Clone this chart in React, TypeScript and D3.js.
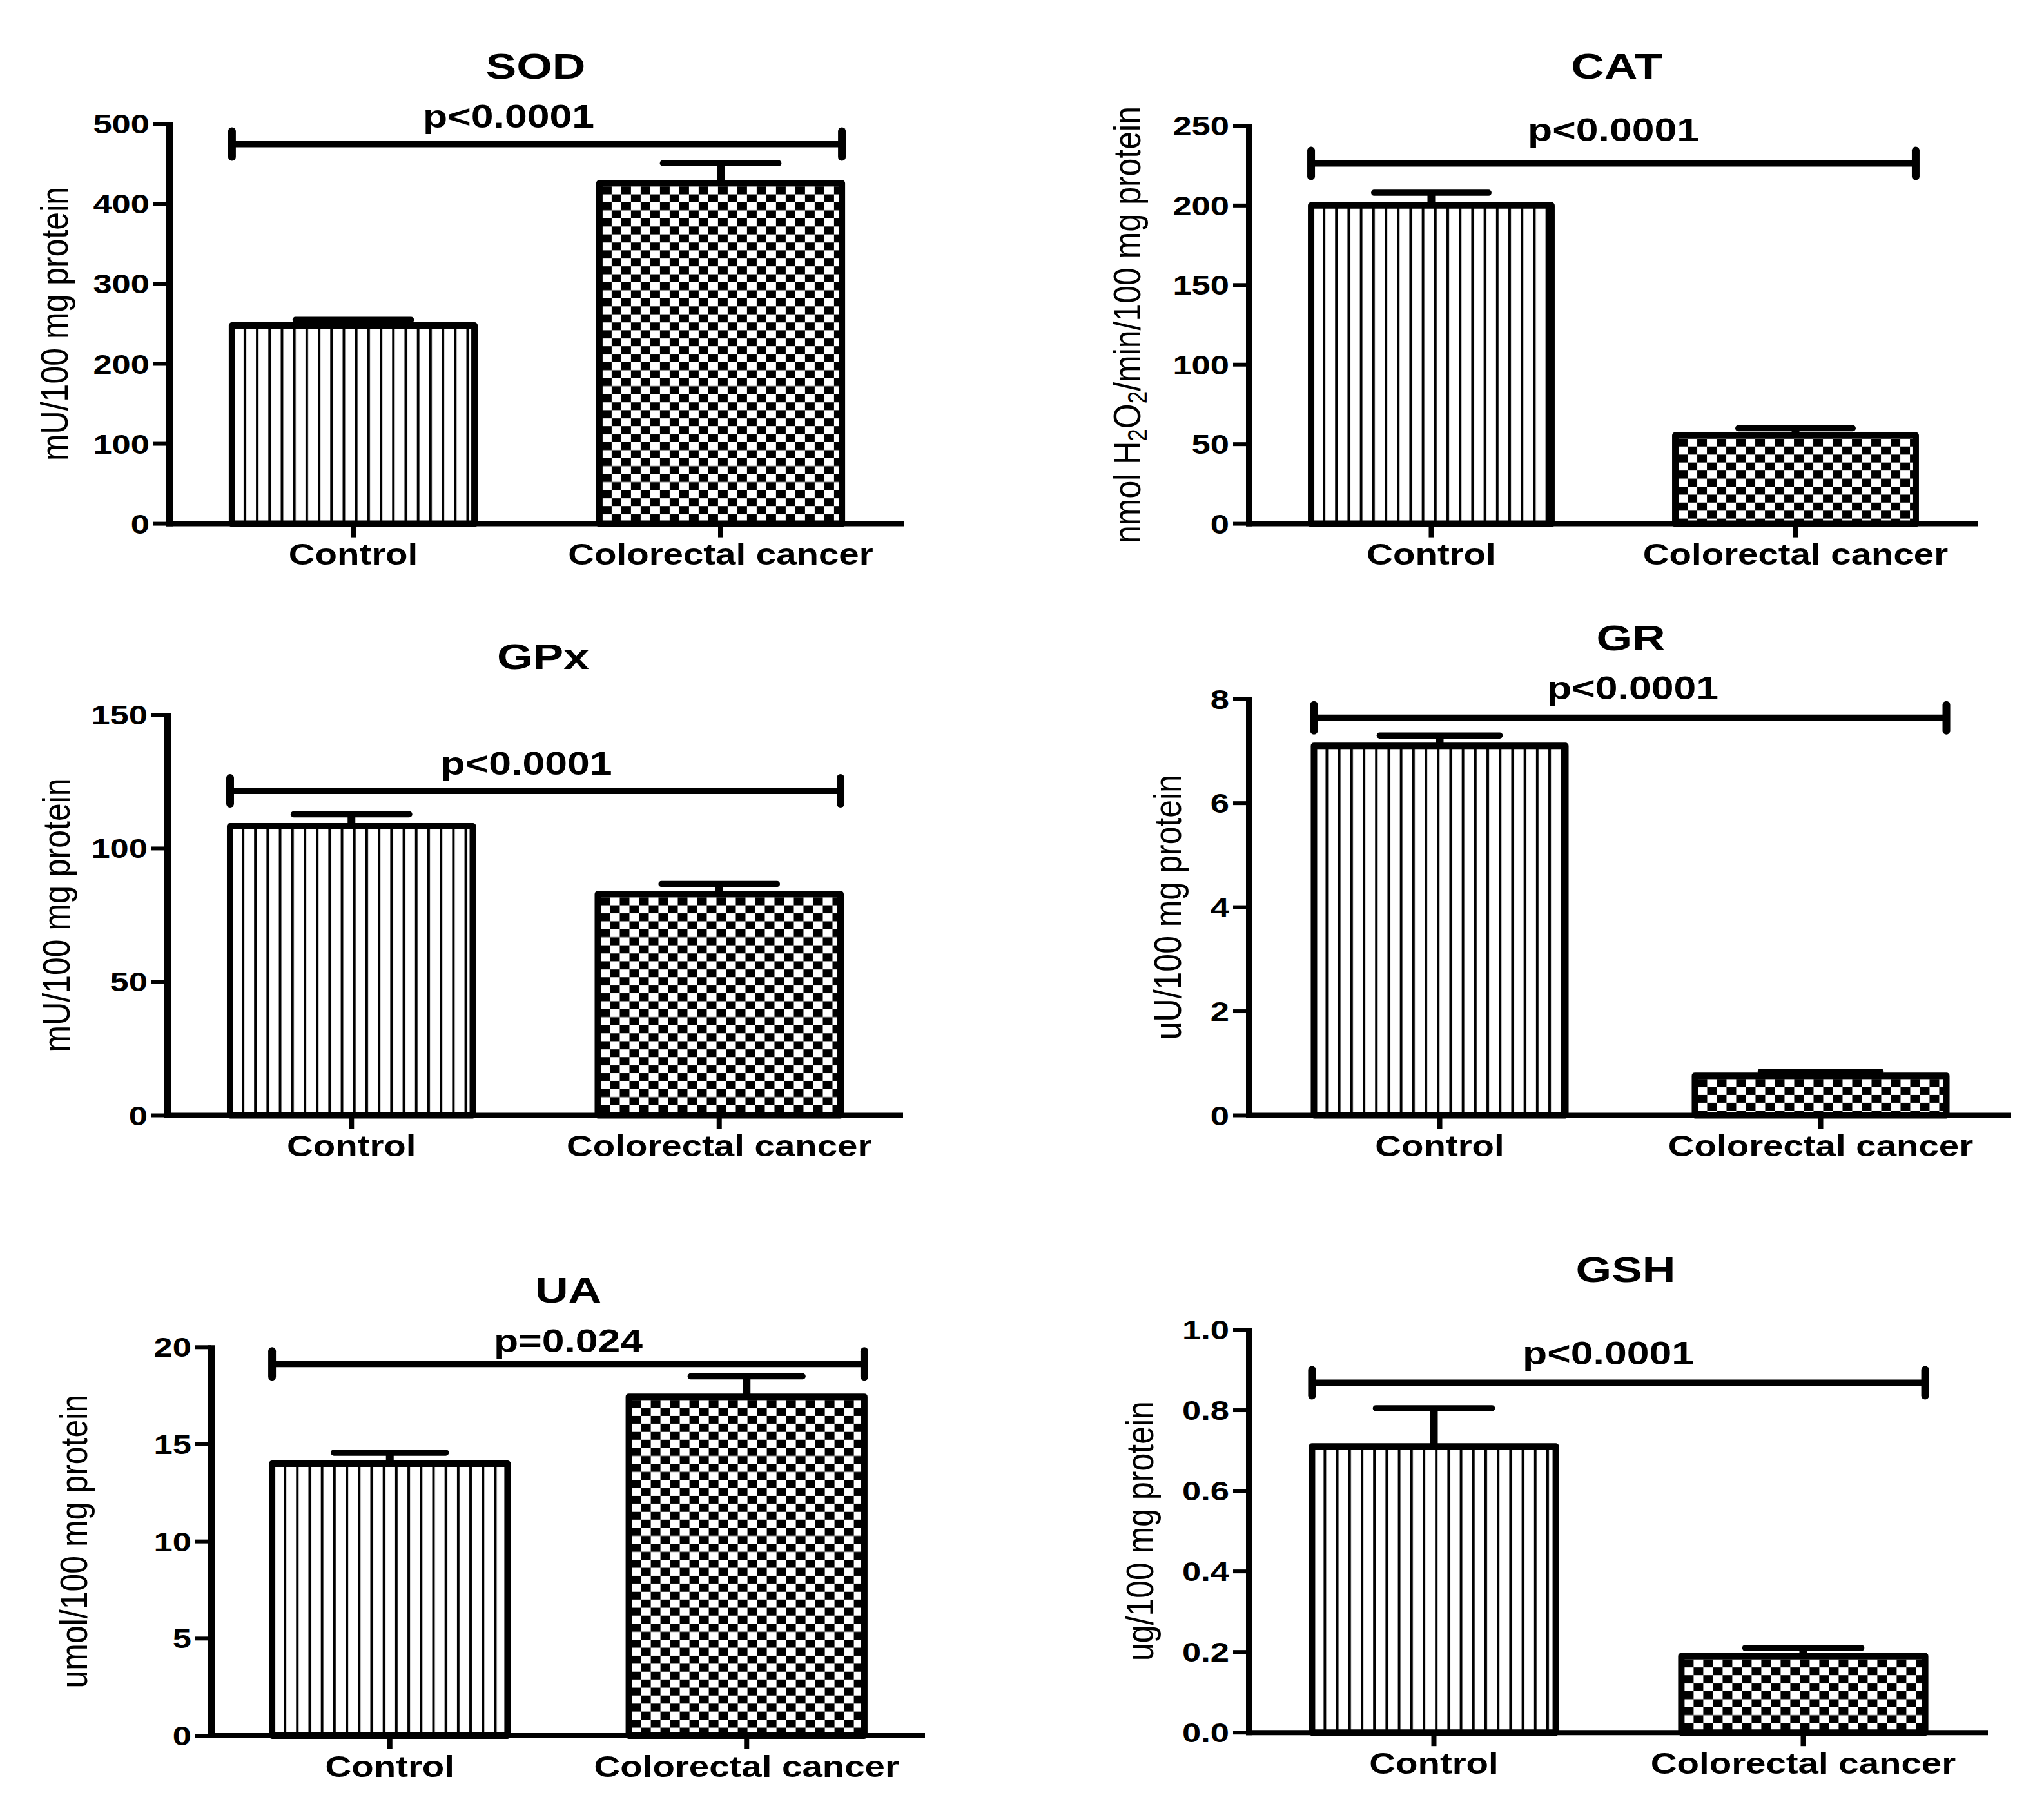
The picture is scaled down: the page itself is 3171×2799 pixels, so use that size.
import * as d3 from "d3";

const groups = ["Control", "Colorectal cancer"];

const titles = ["SOD", "CAT", "GPx", "GR", "UA", "GSH"];
const yLabels = [
  "mU/100 mg protein",
  "nmol H_2O_2/min/100 mg protein",
  "mU/100 mg protein",
  "uU/100 mg protein",
  "umol/100 mg protein",
  "ug/100 mg protein",
];

// mean and SEM for [Control, Colorectal cancer]
const means = [
  [248, 426],
  [200, 55.5],
  [108.3, 82.9],
  [7.1, 0.76],
  [14.0, 17.45],
  [0.71, 0.19],
];
const sems = [
  [7, 25],
  [8, 4.5],
  [4.5, 3.8],
  [0.2, 0.08],
  [0.57, 1.05],
  [0.095, 0.02],
];

const yMax = [500, 250, 150, 8, 20, 1.0];
const yTicks = [
  [0, 100, 200, 300, 400, 500],
  [0, 50, 100, 150, 200, 250],
  [0, 50, 100, 150],
  [0, 2, 4, 6, 8],
  [0, 5, 10, 15, 20],
  [0, 0.2, 0.4, 0.6, 0.8, 1.0],
];
const tickFormats = ["d", "d", "d", "d", "d", ".1f"];

const pLabels = ["p<0.0001", "p<0.0001", "p<0.0001", "p<0.0001", "p=0.024", "p<0.0001"];
const sigLevels = [475, 226.5, 121.6, 7.64, 19.14, 0.868];

// panel placement in page pixels
const LAYOUT = [
  { left: 263, right: 1403, top: 192.4, bottom: 812.6, labelX: 105, titleY: 122, titleDx: -2, pGap: 25, pDx: -44 },
  { left: 1938, right: 3068, top: 195.4, bottom: 812.6, labelX: 1769, titleY: 122, titleDx: 5, pGap: 34, pDx: 0 },
  { left: 260, right: 1401, top: 1109.4, bottom: 1730.5, labelX: 107.5, titleY: 1038, titleDx: 12, pGap: 25, pDx: -14 },
  { left: 1938, right: 3120, top: 1084.7, bottom: 1730.5, labelX: 1832, titleY: 1009, titleDx: 1, pGap: 29, pDx: 4 },
  { left: 328, right: 1435, top: 2090.3, bottom: 2693, labelX: 134.5, titleY: 2021, titleDx: 0, pGap: 18, pDx: 0 },
  { left: 1938, right: 3084, top: 2063, bottom: 2688.2, labelX: 1788.5, titleY: 1989, titleDx: 11, pGap: 29, pDx: -16 },
];

const FONT = "'Liberation Sans', Arial, Helvetica, sans-serif";

type TxtProps = {
  x: number;
  y: number;
  size: number;
  stretch: number;
  stretchY?: number;
  weight?: string;
  anchor?: string;
  rotate?: boolean;
  children: any;
};

const Txt = ({
  x,
  y,
  size,
  stretch,
  stretchY = 1,
  weight = "bold",
  anchor = "middle",
  rotate = false,
  children,
}: TxtProps) => (
  <text
    transform={`translate(${x},${y})${rotate ? " rotate(-90)" : ""} scale(${stretch},${stretchY})`}
    fontSize={size}
    fontWeight={weight}
    textAnchor={anchor}
    fontFamily={FONT}
    fill="#000"
  >
    {children}
  </text>
);

// "H_2" -> H with subscript 2
const labelParts = (s: string, size: number) => {
  const parts = s.split(/(_\d)/);
  const out: any[] = [];
  let shifted = false;
  parts.forEach((p, k) => {
    if (p.startsWith("_")) {
      out.push(
        <tspan key={k} fontSize={size * 0.7} dy={shifted ? 0 : size * 0.16}>
          {p.slice(1)}
        </tspan>
      );
      shifted = true;
    } else if (p.length) {
      out.push(
        <tspan key={k} dy={shifted ? -size * 0.16 : 0}>
          {p}
        </tspan>
      );
      shifted = false;
    }
  });
  return out;
};

const Panel = ({ i }: { i: number }) => {
  const L = LAYOUT[i];
  const xScale = d3
    .scaleBand()
    .domain(groups)
    .range([L.left, L.right])
    .paddingInner(0.34)
    .paddingOuter(0.17);
  const yScale = d3.scaleLinear().domain([0, yMax[i]]).range([L.bottom, L.top]);
  const bw = xScale.bandwidth();
  const fmt = d3.format(tickFormats[i]);
  const cx = (L.left + L.right) / 2;

  const x0 = xScale(groups[0]) as number;
  const x1 = (xScale(groups[1]) as number) + bw;
  const sy = yScale(sigLevels[i]);

  return (
    <g>
      <defs>
        {groups.map((g, j) => {
          const bx = xScale(g) as number;
          const by = yScale(means[i][j]);
          return j === 0 ? (
            <pattern
              key={g}
              id={`pat-${i}-${j}`}
              patternUnits="userSpaceOnUse"
              x={bx + 18}
              y={by}
              width={19.2}
              height={20}
            >
              <rect width={19.2} height={20} fill="#fff" />
              <rect width={4} height={20} fill="#000" />
            </pattern>
          ) : (
            <pattern
              key={g}
              id={`pat-${i}-${j}`}
              patternUnits="userSpaceOnUse"
              x={bx + 4}
              y={by + 5}
              width={30}
              height={24.8}
            >
              <rect width={30} height={24.8} fill="#fff" />
              <rect width={15} height={12.4} fill="#000" />
              <rect x={15} y={12.4} width={15} height={12.4} fill="#000" />
            </pattern>
          );
        })}
      </defs>

      {/* bars */}
      {groups.map((g, j) => {
        const bx = xScale(g) as number;
        const v = means[i][j];
        const top = yScale(v);
        const errTop = yScale(v + sems[i][j]);
        const mid = bx + bw / 2;
        const capHalf = bw * 0.25 - 4.5;
        return (
          <g key={g}>
            <rect
              x={bx}
              y={top}
              width={bw}
              height={L.bottom - top}
              fill={`url(#pat-${i}-${j})`}
              stroke="#000"
              strokeWidth={10}
              strokeLinejoin="round"
            />
            <line x1={mid} x2={mid} y1={top} y2={errTop} stroke="#000" strokeWidth={12} />
            <line
              x1={mid - capHalf}
              x2={mid + capHalf}
              y1={errTop}
              y2={errTop}
              stroke="#000"
              strokeWidth={9.5}
              strokeLinecap="round"
            />
          </g>
        );
      })}

      {/* axes */}
      <line x1={L.left} x2={L.left} y1={L.top - 3} y2={L.bottom + 4} stroke="#000" strokeWidth={10} />
      <line x1={L.left - 5} x2={L.right} y1={L.bottom} y2={L.bottom} stroke="#000" strokeWidth={8} />
      {yTicks[i].map((t) => (
        <g key={t}>
          <line x1={L.left - 25} x2={L.left} y1={yScale(t)} y2={yScale(t)} stroke="#000" strokeWidth={6} />
          <Txt x={L.left - 31} y={yScale(t) + 15} size={42} stretch={1.25} anchor="end">
            {fmt(t)}
          </Txt>
        </g>
      ))}
      {groups.map((g) => {
        const mid = (xScale(g) as number) + bw / 2;
        return (
          <g key={g}>
            <line x1={mid} x2={mid} y1={L.bottom} y2={L.bottom + 21} stroke="#000" strokeWidth={8} />
            <Txt x={mid} y={L.bottom + 63.5} size={47} stretch={1.2}>
              {g}
            </Txt>
          </g>
        );
      })}

      {/* significance bar */}
      <line x1={x0} x2={x1} y1={sy} y2={sy} stroke="#000" strokeWidth={10} strokeLinecap="round" />
      <line x1={x0} x2={x0} y1={sy - 20} y2={sy + 20} stroke="#000" strokeWidth={12} strokeLinecap="round" />
      <line x1={x1} x2={x1} y1={sy - 20} y2={sy + 20} stroke="#000" strokeWidth={12} strokeLinecap="round" />
      <Txt x={cx + L.pDx} y={sy - L.pGap} size={50} stretch={1.25}>
        {pLabels[i]}
      </Txt>

      {/* title and y label */}
      <Txt x={cx + L.titleDx} y={L.titleY} size={55} stretch={1.3}>
        {titles[i]}
      </Txt>
      <Txt
        x={L.labelX}
        y={(L.top + L.bottom) / 2}
        size={50}
        stretch={1}
        stretchY={1.2}
        weight="normal"
        rotate
      >
        {labelParts(yLabels[i], 50)}
      </Txt>
    </g>
  );
};

export default function App() {
  return (
    <svg
      width={3171}
      height={2799}
      style={{ position: "absolute", left: 0, top: 0, display: "block" }}
    >
      <rect width={3171} height={2799} fill="#fff" />
      {titles.map((t, i) => (
        <Panel key={t} i={i} />
      ))}
    </svg>
  );
}
